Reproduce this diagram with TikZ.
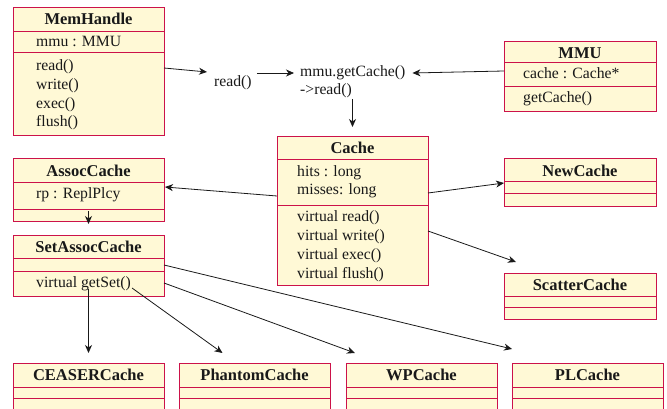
\documentclass[tikz,border=0pt]{standalone}
\usepackage{fontspec}
\setmainfont{Liberation Serif}
\usetikzlibrary{arrows.meta,calc}

\definecolor{boxfill}{RGB}{255,249,214}
\definecolor{boxline}{RGB}{204,18,74}
\definecolor{ink}{RGB}{25,25,25}

\tikzset{
  classbox/.style={draw=boxline, fill=boxfill, line width=1pt, inner sep=0pt, outer sep=0pt, rectangle},
  classline/.style={draw=boxline, line width=1pt},
  classtitle/.style={anchor=base, inner sep=0pt, font=\fontsize{16.5}{18}\selectfont\bfseries, text=ink},
  membertext/.style={anchor=base west, inner sep=0pt, font=\fontsize{15.7}{18}\selectfont, text=ink},
  link/.style={draw=ink, line width=0.8pt, -{Stealth[length=8pt,width=7pt,inset=2.5pt]}},
}

% A UML class: name, left, top, right, first divider, second divider, bottom, title
\newcommand{\umlclass}[8]{%
  \node[classbox, anchor=north west, minimum width={(#4-#2)*1pt}, minimum height={(#7-#3)*1pt}] (#1) at (#2,#3) {};
  \draw[classline] (#2,#5) -- (#4,#5) (#2,#6) -- (#4,#6);
  \node[classtitle] (#1-title) at ({(#2+#4)/2},{#3+17}) {#8};
}
% Member lines of a class: name prefix, x, first baseline, line step, list
\newcommand{\umllines}[5]{%
  \foreach \t [count=\i] in {#5}
    \node[membertext] (#1-\i) at (#2,{#3+#4*(\i-1)}) {\t};
}

\begin{document}
\begin{tikzpicture}[x=1pt,y=-1pt]
\clip (0,0) rectangle (667,409);

% classes
\umlclass{memhandle}{13}{8}{164}{32}{53}{136}{MemHandle}
\umllines{memhandle-a}{36}{47}{18}{mmu : MMU}
\umllines{memhandle-o}{36}{71}{18.6}{read(),write(),exec(),flush()}

\umlclass{mmu}{504}{42}{656}{63}{87}{112}{MMU}
\umllines{mmu-a}{523}{79}{18}{cache : Cache*}
\umllines{mmu-o}{523}{103}{18}{getCache()}

\umlclass{cache}{277}{137}{428}{160}{205}{285}{Cache}
\umllines{cache-a}{297}{177}{17.3}{hits : long,misses: long}
\umllines{cache-o}{297}{222}{18.7}{virtual read(),virtual write(),virtual exec(),virtual flush()}

\umlclass{assoc}{13}{159}{164}{183}{209}{221}{AssocCache}
\umllines{assoc-a}{36}{198}{18}{rp : ReplPlcy}

\umlclass{setassoc}{13}{235}{164}{258}{271}{296}{SetAssocCache}
\umllines{setassoc-o}{36}{287}{18}{virtual getSet()}

\umlclass{newcache}{504}{159}{656}{182}{194}{206}{NewCache}
\umlclass{scatter}{504}{273}{656}{296}{307}{319}{ScatterCache}

\umlclass{ceaser}{13}{363}{164}{387}{398}{420}{CEASERCache}
\umlclass{phantom}{179}{363}{330}{387}{398}{420}{PhantomCache}
\umlclass{wp}{346}{363}{497}{387}{398}{420}{WPCache}
\umlclass{pl}{512}{363}{663}{387}{398}{420}{PLCache}

% call chain labels
\node[membertext] (readlbl) at (214,87) {read()};
\node[membertext] (call1) at (300,77) {mmu.getCache()};
\node[membertext] (call2) at (300,95) {->read()};

% connectors
\draw[link] ($(memhandle.north east)+(0,60)$) -- ($(readlbl.base west)+(-7,-15)$);
\draw[link] ($(readlbl.base east)+(5,-14)$) -- ($(call1.base west)+(-6,-4)$);
\draw[link] ($(mmu.north west)+(0,29)$) -- ($(call1.base east)+(7,-4)$);
\draw[link] ($(cache.north)+(0,-38)$) -- ($(cache.north)+(0,-10)$);

\draw[link] ($(cache.north west)+(0,59)$) -- ($(assoc.north east)+(1,28)$);
\draw[link] ($(cache.north east)+(0,56)$) -- ($(newcache.north west)+(0,24)$);
\draw[link] ($(cache.north east)+(0,94)$) -- ($(scatter.north west)+(12,-11)$);

\draw[link] ($(assoc.south)+(0,-10)$) -- ($(setassoc.north)+(0,-11)$);
\draw[link] ($(setassoc.south)+(0,-7)$) -- ($(ceaser.north)+(0,-10)$);
\draw[link] ($(setassoc.south west)+(119,-8)$) -- ($(phantom.north)+(-32,-10)$);
\draw[link] ($(setassoc.north east)+(0,48)$) -- ($(wp.north)+(-66.5,-10)$);
\draw[link] ($(setassoc.north east)+(0,30)$) -- ($(pl.north west)+(0,-14)$);
\end{tikzpicture}
\end{document}
